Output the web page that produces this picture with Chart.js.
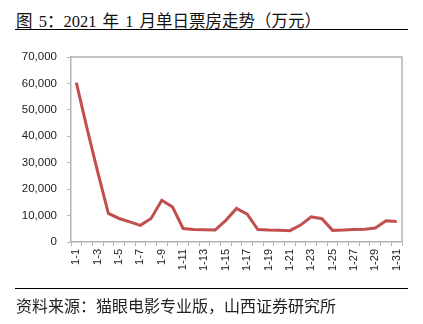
<!DOCTYPE html>
<html lang="zh">

<head>
  <meta charset="UTF-8">
  <title>2021 年 1 月单日票房走势</title>
  <style>
    body {
      margin: 0;
      background: #fff;
    }

    #wrap {
      position: relative;
      width: 423px;
      height: 324px;
      overflow: hidden;
    }

    #grafico {
      position: absolute;
      left: 0;
      top: 0;
    }

    .titulo {
      position: absolute;
      left: 16px;
      top: 8px;
      font-family: "Liberation Serif", "Noto Sans CJK SC", serif;
      font-size: 16.5px;
      word-spacing: 2px;
      color: #111;
      white-space: nowrap;
    }

    .regla {
      position: absolute;
      left: 15px;
      width: 393px;
      height: 1px;
      background: #000;
    }

    .fuente {
      position: absolute;
      left: 16px;
      top: 293px;
      font-family: "Noto Sans CJK SC", sans-serif;
      font-size: 16px;
      color: #222;
      white-space: nowrap;
    }
  </style>
  <script src="https://cdn.jsdelivr.net/npm/chart.js"></script>
</head>

<body>
  <div id="wrap">
    <div class="titulo">图 5：2021 年 1 月单日票房走势（万元）</div>
    <div class="regla" style="top: 29px;"></div>
    <canvas id="grafico" width="423" height="324"></canvas>
    <div class="regla" style="top: 288px;"></div>
    <div class="fuente">资料来源：猫眼电影专业版，山西证券研究所</div>
  </div>

  <script>
    // días de enero
    const dias = ['1-1', '1-2', '1-3', '1-4', '1-5', '1-6', '1-7', '1-8', '1-9', '1-10',
      '1-11', '1-12', '1-13', '1-14', '1-15', '1-16', '1-17', '1-18', '1-19', '1-20',
      '1-21', '1-22', '1-23', '1-24', '1-25', '1-26', '1-27', '1-28', '1-29', '1-30', '1-31'];

    // taquilla diaria (万元)
    const taquilla = [60300, 43000, 26500, 10800, 8900, 7600, 6300, 8900, 15800, 13300,
      5100, 4700, 4600, 4500, 8200, 12700, 10500, 4700, 4500, 4400,
      4300, 6400, 9500, 8800, 4400, 4500, 4700, 4800, 5300, 8000, 7800];

    const ejeY = { min: 0, max: 70000, paso: 10000 };

    const gris = '#b3b3b3';

    // marco superior y derecho del área de trazado
    const marco = {
      id: 'marco',
      beforeDatasetsDraw(chart) {
        const { ctx, chartArea: a } = chart;
        ctx.save();
        ctx.strokeStyle = gris;
        ctx.lineWidth = 1.5;
        ctx.beginPath();
        ctx.moveTo(a.left, a.top);
        ctx.lineTo(a.right, a.top);
        ctx.lineTo(a.right, a.bottom);
        ctx.stroke();
        ctx.restore();
      }
    };

    const ctx = document.getElementById('grafico').getContext('2d');

    new Chart(ctx, {
      type: 'line',
      data: {
        labels: dias,
        datasets: [{
          data: taquilla,
          borderColor: '#c0504d',
          borderWidth: 3,
          pointRadius: 0,
          tension: 0,
          fill: false
        }]
      },
      options: {
        responsive: false,
        animation: false,
        layout: {
          padding: { left: 8, top: 57, right: 21, bottom: 40 }
        },
        plugins: {
          legend: { display: false },
          tooltip: { enabled: false }
        },
        scales: {
          x: {
            offset: true,
            afterFit(scale) { scale.height = 42; },
            border: { color: gris, width: 1.5 },
            grid: {
              offset: true,
              drawOnChartArea: false,
              drawTicks: true,
              tickLength: 4,
              color: gris
            },
            ticks: {
              autoSkip: false,
              maxRotation: 90,
              minRotation: 90,
              padding: 3,
              color: '#222',
              font: { family: 'Liberation Sans', size: 11 },
              callback: (v, i) => (i % 2 === 0 ? dias[i] : '')
            }
          },
          y: {
            min: ejeY.min,
            max: ejeY.max,
            afterFit(scale) { scale.width = 63; },
            border: { color: gris, width: 1.5 },
            grid: {
              drawOnChartArea: false,
              drawTicks: true,
              tickLength: 4,
              color: gris
            },
            ticks: {
              stepSize: ejeY.paso,
              padding: 10,
              color: '#222',
              font: { family: 'Liberation Sans', size: 11.5 },
              callback: (v) => v.toLocaleString('en-US')
            }
          }
        }
      },
      plugins: [marco]
    });
  </script>
</body>

</html>
